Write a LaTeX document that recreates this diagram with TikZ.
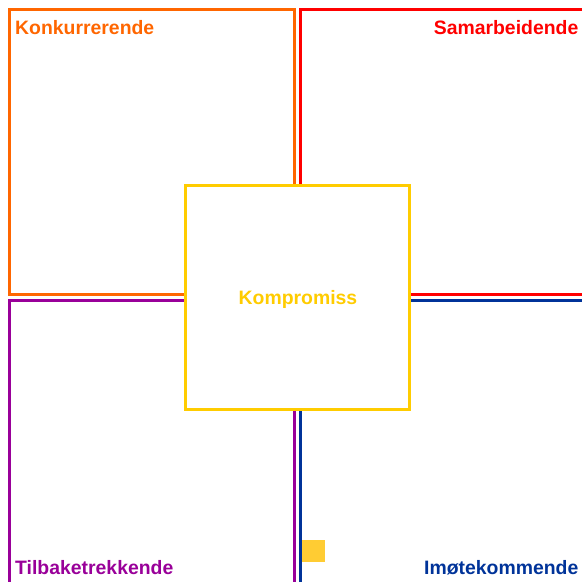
\documentclass[tikz,border=0pt]{standalone}
\usepackage{fontspec}
\setmainfont{Liberation Sans}
\definecolor{korange}{HTML}{FF6600}
\definecolor{kred}{HTML}{FF0000}
\definecolor{kpurple}{HTML}{990099}
\definecolor{kblue}{HTML}{003399}
\definecolor{kyellow}{HTML}{FFCC00}
\definecolor{kyellowfill}{HTML}{FFCC33}
\tikzset{
  quad/.style={draw=#1, line width=3pt, rectangle, inner sep=0pt},
  label/.style={text=#1, font=\fontsize{19.4}{23}\selectfont\bfseries, inner sep=0pt},
}
\begin{document}
\begin{tikzpicture}[x=1pt, y=-1pt]
  \useasboundingbox (0,0) rectangle (582,582);
  \clip (0,0) rectangle (582,582);
  % four style quadrants
  \draw[quad=korange] (9.5,9.5) rectangle (294.5,294.5);
  \draw[quad=kred] (300.5,9.5) rectangle (600,294.5);
  \draw[quad=kpurple] (9.5,300.5) rectangle (294.5,600);
  \draw[quad=kblue] (300.5,300.5) rectangle (600,600);
  % central compromise square
  \node[quad=kyellow, fill=white, minimum size=224pt] (komp) at (297.5,297.5) {};
  \node[label=kyellow, anchor=base] (kompt) at (298,304.5) {Kompromiss};
  % small marker square
  \node[fill=kyellowfill, inner sep=0pt, minimum width=23pt, minimum height=22pt, anchor=north west] (mark) at (302,540) {};
  % quadrant labels
  \node[label=korange, anchor=base west] (konk) at (15,34) {Konkurrerende};
  \node[label=kred, anchor=base east] (sam) at (578.5,34) {Samarbeidende};
  \node[label=kpurple, anchor=base west] (tilb) at (15,574) {Tilbaketrekkende};
  \node[label=kblue, anchor=base east] (imot) at (578.5,574) {Imøtekommende};
\end{tikzpicture}
\end{document}
